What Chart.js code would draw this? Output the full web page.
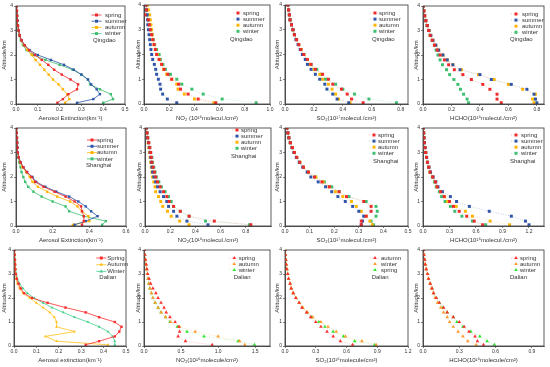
<!DOCTYPE html>
<html lang="en">
  <head>
    <meta charset="UTF-8" />
    <title>Vertical profiles</title>
    <script src="https://cdn.jsdelivr.net/npm/chart.js"></script>
    <style>
      body { margin: 0; background: #fff; width: 550px; height: 367px; overflow: hidden; position: relative; }
      .panel { position: absolute; }
    </style>
  </head>
  <body>
    <script>
      // altitude levels (km)
      const alt = [0.05, 0.2, 0.4, 0.6, 0.8, 1.0, 1.2, 1.4, 1.6, 1.8, 2.0, 2.2, 2.4, 2.6, 2.8, 3.0, 3.2, 3.4, 3.6, 3.8, 4.0];

      // tick labels
      const ticksAlt = [0, 1, 2, 3, 4];
      const ticks05 = [0, 0.1, 0.2, 0.3, 0.4, 0.5];
      const ticks06 = [0, 0.2, 0.4, 0.6];
      const ticks08 = [0, 0.2, 0.4, 0.6, 0.8];
      const ticks10 = [0, 0.2, 0.4, 0.6, 0.8, 1.0];
      const ticks09 = [0, 0.3, 0.6, 0.9];
      const ticks12 = [0, 0.3, 0.6, 0.9, 1.2];
      const ticks15 = [0, 0.5, 1.0, 1.5];

      // Qingdao
      const qdAerSpring = [0.19, 0.215, 0.24, 0.28, 0.285, 0.25, 0.21, 0.175, 0.148, 0.118, 0.087, 0.06, 0.04, 0.026, 0.017, 0.012, 0.009, 0.007, 0.005, 0.004, 0.003];
      const qdAerSummer = [0.28, 0.355, 0.385, 0.37, 0.345, 0.33, 0.3, 0.265, 0.22, 0.16, 0.1, 0.062, 0.04, 0.026, 0.017, 0.012, 0.009, 0.007, 0.005, 0.004, 0.003];
      const qdAerAutumn = [0.225, 0.245, 0.235, 0.215, 0.195, 0.17, 0.15, 0.13, 0.11, 0.09, 0.072, 0.052, 0.036, 0.024, 0.016, 0.011, 0.008, 0.006, 0.005, 0.004, 0.003];
      const qdAerWinter = [0.4, 0.445, 0.435, 0.385, 0.34, 0.33, 0.3, 0.26, 0.2, 0.135, 0.08, 0.048, 0.032, 0.022, 0.015, 0.011, 0.008, 0.006, 0.005, 0.004, 0.003];

      const qdNo2Spring = [0.57, 0.43, 0.35, 0.29, 0.275, 0.22, 0.19, 0.16, 0.14, 0.12, 0.1, 0.09, 0.08, 0.07, 0.06, 0.05, 0.042, 0.035, 0.008, 0.02, 0.015];
      const qdNo2Summer = [0.26, 0.185, 0.148, 0.132, 0.127, 0.114, 0.1, 0.093, 0.082, 0.069, 0.061, 0.055, 0.05, 0.045, 0.04, 0.035, 0.03, 0.028, 0.025, 0.02, 0.015];
      const qdNo2Autumn = [0.555, 0.4, 0.32, 0.27, 0.26, 0.22, 0.18, 0.155, 0.14, 0.12, 0.105, 0.09, 0.08, 0.07, 0.065, 0.06, 0.055, 0.05, 0.045, 0.035, 0.03];
      const qdNo2Winter = [0.89, 0.62, 0.47, 0.38, 0.3, 0.26, 0.21, 0.17, 0.15, 0.13, 0.12, 0.1, 0.085, 0.075, 0.065, 0.055, 0.045, 0.035, 0.025, 0.02, 0.015];

      const qdSo2Spring = [0.54, 0.46, 0.43, 0.39, 0.33, 0.3, 0.26, 0.21, 0.18, 0.155, 0.13, 0.11, 0.095, 0.08, 0.065, 0.055, 0.045, 0.035, 0.03, 0.025, 0.02];
      const qdSo2Summer = [0.44, 0.36, 0.33, 0.29, 0.275, 0.24, 0.21, 0.18, 0.155, 0.14, 0.12, 0.105, 0.09, 0.075, 0.065, 0.055, 0.045, 0.035, 0.03, 0.025, 0.02];
      const qdSo2Autumn = [0.45, 0.37, 0.35, 0.325, 0.3, 0.26, 0.24, 0.2, 0.17, 0.15, 0.13, 0.11, 0.095, 0.08, 0.065, 0.055, 0.045, 0.035, 0.03, 0.025, 0.02];
      const qdSo2Winter = [0.77, 0.58, 0.48, 0.4, 0.35, 0.28, 0.25, 0.22, 0.18, 0.15, 0.13, 0.11, 0.095, 0.08, 0.065, 0.055, 0.045, 0.035, 0.03, 0.025, 0.02];

      const qdHchoSpring = [0.55, 0.52, 0.52, 0.47, 0.42, 0.34, 0.28, 0.22, 0.18, 0.15, 0.12, 0.1, 0.08, 0.065, 0.05, 0.04, 0.03, 0.02, 0.012, 0.006, 0.002];
      const qdHchoSummer = [0.8, 0.79, 0.78, 0.73, 0.62, 0.48, 0.4, 0.26, 0.21, 0.17, 0.14, 0.11, 0.09, 0.07, 0.055, 0.042, 0.03, 0.02, 0.012, 0.006, 0.002];
      const qdHchoAutumn = [0.78, 0.77, 0.79, 0.7, 0.6, 0.5, 0.39, 0.27, 0.21, 0.17, 0.14, 0.11, 0.09, 0.07, 0.055, 0.042, 0.03, 0.02, 0.012, 0.006, 0.002];
      const qdHchoWinter = [0.32, 0.31, 0.285, 0.263, 0.245, 0.217, 0.187, 0.165, 0.137, 0.12, 0.105, 0.092, 0.08, 0.064, 0.05, 0.041, 0.027, 0.018, 0.009, 0.005, 0.0];

      // Shanghai
      const shAerSpring = [0.36, 0.37, 0.37, 0.36, 0.355, 0.32, 0.27, 0.21, 0.15, 0.105, 0.085, 0.06, 0.04, 0.025, 0.015, 0.01, 0.008, 0.006, 0.005, 0.004, 0.003];
      const shAerSummer = [0.32, 0.38, 0.445, 0.41, 0.38, 0.34, 0.29, 0.22, 0.16, 0.11, 0.09, 0.06, 0.04, 0.025, 0.015, 0.01, 0.008, 0.006, 0.005, 0.004, 0.003];
      const shAerAutumn = [0.31, 0.4, 0.395, 0.36, 0.335, 0.295, 0.225, 0.17, 0.12, 0.09, 0.075, 0.055, 0.035, 0.022, 0.015, 0.01, 0.008, 0.006, 0.005, 0.004, 0.003];
      const shAerWinter = [0.47, 0.49, 0.37, 0.29, 0.27, 0.2, 0.14, 0.095, 0.067, 0.05, 0.04, 0.03, 0.025, 0.018, 0.012, 0.009, 0.007, 0.006, 0.005, 0.004, 0.003];

      const shNo2Spring = [0.84, 0.55, 0.35, 0.28, 0.227, 0.192, 0.173, 0.147, 0.12, 0.1, 0.085, 0.075, 0.065, 0.055, 0.05, 0.045, 0.038, 0.03, 0.022, 0.016, 0.01];
      const shNo2Summer = [0.5, 0.333, 0.253, 0.227, 0.187, 0.173, 0.147, 0.12, 0.1, 0.085, 0.07, 0.06, 0.055, 0.05, 0.045, 0.04, 0.034, 0.027, 0.02, 0.015, 0.01];
      const shNo2Autumn = [0.35, 0.275, 0.208, 0.179, 0.141, 0.125, 0.107, 0.085, 0.08, 0.07, 0.06, 0.055, 0.05, 0.045, 0.04, 0.035, 0.03, 0.025, 0.02, 0.015, 0.01];
      const shNo2Winter = [0.83, 0.48, 0.35, 0.28, 0.227, 0.208, 0.187, 0.16, 0.13, 0.11, 0.09, 0.08, 0.07, 0.06, 0.055, 0.045, 0.038, 0.03, 0.022, 0.016, 0.01];

      const shSo2Spring = [0.31, 0.31, 0.33, 0.35, 0.35, 0.32, 0.25, 0.22, 0.18, 0.15, 0.12, 0.095, 0.075, 0.06, 0.048, 0.038, 0.03, 0.022, 0.016, 0.012, 0.008];
      const shSo2Summer = [0.31, 0.315, 0.32, 0.3, 0.275, 0.245, 0.215, 0.19, 0.165, 0.135, 0.105, 0.09, 0.072, 0.058, 0.046, 0.036, 0.028, 0.021, 0.015, 0.011, 0.007];
      const shSo2Autumn = [0.355, 0.345, 0.33, 0.31, 0.29, 0.27, 0.235, 0.205, 0.18, 0.155, 0.125, 0.095, 0.075, 0.06, 0.047, 0.037, 0.029, 0.021, 0.015, 0.011, 0.007];
      const shSo2Winter = [0.36, 0.35, 0.37, 0.375, 0.37, 0.33, 0.26, 0.22, 0.19, 0.16, 0.125, 0.095, 0.075, 0.06, 0.048, 0.038, 0.03, 0.022, 0.016, 0.012, 0.008];

      const shHchoSpring = [0.675, 0.58, 0.495, 0.41, 0.345, 0.3, 0.24, 0.2, 0.16, 0.14, 0.11, 0.08, 0.065, 0.05, 0.04, 0.03, 0.022, 0.015, 0.011, 0.008, 0.003];
      const shHchoSummer = [1.2, 1.16, 1.0, 0.75, 0.525, 0.38, 0.31, 0.22, 0.17, 0.145, 0.115, 0.085, 0.068, 0.052, 0.042, 0.032, 0.023, 0.016, 0.011, 0.008, 0.003];
      const shHchoAutumn = [0.98, 0.76, 0.56, 0.48, 0.375, 0.28, 0.245, 0.2, 0.16, 0.14, 0.11, 0.08, 0.065, 0.05, 0.04, 0.03, 0.022, 0.015, 0.011, 0.008, 0.003];
      const shHchoWinter = [0.71, 0.56, 0.44, 0.36, 0.31, 0.25, 0.21, 0.185, 0.15, 0.13, 0.105, 0.08, 0.063, 0.05, 0.04, 0.03, 0.022, 0.015, 0.011, 0.008, 0.003];

      // Dalian
      const dlAerSpring = [0.32, 0.38, 0.45, 0.47, 0.48, 0.45, 0.38, 0.32, 0.23, 0.15, 0.08, 0.045, 0.03, 0.02, 0.012, 0.008, 0.006, 0.005, 0.004, 0.003, 0.002];
      const dlAerAutumn = [0.42, 0.19, 0.14, 0.27, 0.19, 0.19, 0.18, 0.16, 0.13, 0.1, 0.07, 0.04, 0.025, 0.015, 0.01, 0.008, 0.006, 0.005, 0.004, 0.003, 0.002];
      const dlAerWinter = [0.45, 0.45, 0.44, 0.42, 0.38, 0.33, 0.27, 0.22, 0.17, 0.13, 0.09, 0.06, 0.04, 0.025, 0.015, 0.01, 0.008, 0.006, 0.005, 0.004, 0.003];

      const dlNo2Spring = [0.92, 0.56, 0.46, 0.48, 0.47, 0.42, 0.35, 0.3, 0.27, 0.23, 0.19, 0.16, 0.12, 0.09, 0.07, 0.05, 0.04, 0.03, 0.02, 0.012, 0.005];
      const dlNo2Autumn = [1.36, 1.29, 1.0, 0.69, 0.48, 0.36, 0.29, 0.23, 0.19, 0.15, 0.12, 0.1, 0.08, 0.065, 0.055, 0.045, 0.035, 0.025, 0.018, 0.01, 0.005];
      const dlNo2Winter = [1.49, 1.27, 0.81, 0.58, 0.45, 0.35, 0.29, 0.23, 0.19, 0.15, 0.12, 0.1, 0.08, 0.065, 0.055, 0.045, 0.035, 0.025, 0.018, 0.01, 0.005];

      const dlSo2Autumn = [0.66, 0.54, 0.47, 0.41, 0.35, 0.3, 0.25, 0.21, 0.165, 0.137, 0.105, 0.08, 0.06, 0.05, 0.035, 0.027, 0.018, 0.012, 0.008, 0.004, 0.002];
      const dlSo2Winter = [0.89, 0.75, 0.59, 0.5, 0.42, 0.35, 0.27, 0.22, 0.175, 0.14, 0.108, 0.082, 0.062, 0.05, 0.036, 0.027, 0.018, 0.012, 0.008, 0.004, 0.002];
      const dlSo2Spring = [0.875, 0.68, 0.57, 0.47, 0.39, 0.33, 0.26, 0.215, 0.17, 0.14, 0.107, 0.081, 0.061, 0.05, 0.035, 0.027, 0.018, 0.012, 0.008, 0.004, 0.002];

      const dlHchoSpring = [0.5, 0.45, 0.43, 0.38, 0.34, 0.3, 0.25, 0.2, 0.17, 0.135, 0.11, 0.088, 0.075, 0.06, 0.046, 0.038, 0.027, 0.019, 0.014, 0.008, 0.005];
      const dlHchoAutumn = [0.44, 0.37, 0.33, 0.29, 0.25, 0.22, 0.2, 0.17, 0.147, 0.12, 0.1, 0.085, 0.07, 0.058, 0.045, 0.036, 0.026, 0.018, 0.013, 0.008, 0.005];
      const dlHchoWinter = [0.59, 0.53, 0.47, 0.395, 0.33, 0.28, 0.25, 0.2, 0.165, 0.135, 0.11, 0.088, 0.075, 0.06, 0.046, 0.038, 0.027, 0.019, 0.014, 0.008, 0.005];

      const RED = "#ee2a2a", BLUE = "#2f55a8", YEL = "#ffb400", GRN = "#3dbf70";
      const RED3 = "#ff2e2e", ORA3 = "#ff9a2e", YEL3 = "#ffc21a", GRN3 = "#2ee62e", GRN3A = "#45cf8a";
      const FONT = "'Liberation Sans', Arial, sans-serif";
      const INK = "#333";

      const unitNo2 = "NO\u2082 (10\u00b9\u2076molecul./cm\u00b2)";
      const panels = [
        { l: 16, t: 6, r: 125, b: 104, yw: 16, xMax: 0.5, xTicks: ticks05, line: true, xTitle: "Aerosol Extinction(km\u207b\u00b9)", city: "Qingdao",
          lg: { mx: 28.5, tx: 20, y0: 9, gap: 6.2, cx: 32, cy: 34 },
          series: [["spring", qdAerSpring, RED, "rect"], ["summer", qdAerSummer, BLUE, "rect"], ["autumn", qdAerAutumn, YEL, "rect"], ["winter", qdAerWinter, GRN, "rect"]] },
        { l: 144, t: 5, r: 270, b: 104, yw: 10, xMax: 1.0, xTicks: ticks10, xTitle: unitNo2, city: "Qingdao",
          lg: { mx: 32, tx: 27, y0: 8, gap: 6.1, cx: 40, cy: 34 },
          series: [["spring", qdNo2Spring, RED, "rect"], ["summer", qdNo2Summer, BLUE, "rect"], ["autumn", qdNo2Autumn, YEL, "rect"], ["winter", qdNo2Winter, GRN, "rect"]] },
        { l: 285, t: 5, r: 408, b: 104, yw: 12, xMax: 0.85, xTicks: ticks08, xTitle: "SO\u2082(10\u00b9\u2077molecul./cm\u00b2)", city: "Qingdao",
          lg: { mx: 33, tx: 29, y0: 8, gap: 6.1, cx: 36, cy: 34 },
          series: [["spring", qdSo2Spring, RED, "rect"], ["summer", qdSo2Summer, BLUE, "rect"], ["autumn", qdSo2Autumn, YEL, "rect"], ["winter", qdSo2Winter, GRN, "rect"]] },
        { l: 423, t: 6, r: 544, b: 104, yw: 11, xMax: 0.85, xTicks: ticks08, xTitle: "HCHO(10\u00b9\u2076molecul./cm\u00b2)", city: "Qingdao",
          lg: { mx: 28, tx: 22, y0: 8, gap: 6.1, cx: 34, cy: 33 },
          series: [["spring", qdHchoSpring, RED, "rect"], ["summer", qdHchoSummer, BLUE, "rect"], ["autumn", qdHchoAutumn, YEL, "rect"], ["winter", qdHchoWinter, GRN, "rect"]] },

        { l: 16, t: 128, r: 126, b: 226, yw: 16, xMax: 0.6, xTicks: ticks06, line: true, xTitle: "Aerosol Extinction(km\u207b\u00b9)", city: "Shanghai",
          lg: { mx: 34, tx: 29, y0: 12, gap: 6.3, cx: 40, cy: 37 },
          series: [["spring", shAerSpring, RED, "rect"], ["summer", shAerSummer, BLUE, "rect"], ["autumn", shAerAutumn, YEL, "rect"], ["winter", shAerWinter, GRN, "rect"]] },
        { l: 145, t: 128, r: 271, b: 226, yw: 10, xMax: 1.0, xTicks: ticks08, xTitle: "NO\u2082(10\u00b9\u2076molecul./cm\u00b2)", city: "Shanghai",
          lg: { mx: 34, tx: 30, y0: 2, gap: 6.1, cx: 40, cy: 28 },
          series: [["spring", shNo2Spring, RED, "rect"], ["summer", shNo2Summer, BLUE, "rect"], ["autumn", shNo2Autumn, YEL, "rect"], ["winter", shNo2Winter, GRN, "rect"]] },
        { l: 285, t: 128, r: 408, b: 226, yw: 12, xMax: 0.5, xTicks: ticks05, xTitle: "SO\u2082(10\u00b9\u2077molecul./cm\u00b2)", city: "Shanghai",
          lg: { mx: 34, tx: 30, y0: 7, gap: 6.1, cx: 35, cy: 33 },
          series: [["spring", shSo2Spring, RED, "rect"], ["summer", shSo2Summer, BLUE, "rect"], ["autumn", shSo2Autumn, YEL, "rect"], ["winter", shSo2Winter, GRN, "rect"]] },
        { l: 423, t: 128, r: 544, b: 226, yw: 11, xMax: 1.37, xTicks: ticks12, xTitle: "HCHO(10\u00b9\u2076molecul./cm\u00b2)", city: "Shanghai",
          lg: { mx: 28, tx: 23, y0: 7, gap: 6.1, cx: 34, cy: 33 },
          series: [["spring", shHchoSpring, RED, "rect"], ["summer", shHchoSummer, BLUE, "rect"], ["autumn", shHchoAutumn, YEL, "rect"], ["winter", shHchoWinter, GRN, "rect"]] },

        { l: 14, t: 250, r: 126, b: 346, yw: 14, xMax: 0.5, xTicks: ticks05, line: true, xTitle: "Aerosol extinction(km\u207b\u00b9)", city: "Dalian",
          lg: { mx: 24.7, tx: 18.7, y0: 8, gap: 6.7, cx: 26.7, cy: 27.3 },
          series: [["Spring", dlAerSpring, RED3, "rect"], ["Autumn", dlAerAutumn, YEL3, "triangle"], ["Winter", dlAerWinter, GRN3A, "triangle"]] },
        { l: 144, t: 250, r: 270, b: 346, yw: 10, xMax: 1.7, xTicks: ticks15, xTitle: "NO\u2082(10\u00b9\u2076molecule/cm\u00b2)", city: "Dalian",
          lg: { mx: 35.7, tx: 31.3, y0: 8, gap: 6, cx: 36.3, cy: 27.3 },
          series: [["spring", dlNo2Spring, RED3, "triangle"], ["autumn", dlNo2Autumn, ORA3, "triangle"], ["winter", dlNo2Winter, GRN3, "triangle"]] },
        { l: 285, t: 250, r: 408, b: 346, yw: 12, xMax: 1.2, xTicks: ticks12, xTitle: "SO\u2082(10\u00b9\u2076molecule/cm\u00b2)", city: "Dalian",
          lg: { mx: 33, tx: 27, y0: 8, gap: 6, cx: 36.3, cy: 27.3 },
          series: [["autumn", dlSo2Autumn, RED3, "triangle"], ["winter", dlSo2Winter, ORA3, "triangle"], ["spring", dlSo2Spring, GRN3, "triangle"]] },
        { l: 423, t: 250, r: 544, b: 346, yw: 11, xMax: 1.0, xTicks: ticks09, xTitle: "HCHO(10\u00b9\u2076molecule/cm\u00b2)", city: "Dalian",
          lg: { mx: 28, tx: 24, y0: 8, gap: 6, cx: 34, cy: 27.3 },
          series: [["spring", dlHchoSpring, RED3, "triangle"], ["autumn", dlHchoAutumn, ORA3, "triangle"], ["winter", dlHchoWinter, GRN3, "triangle"]] },
      ];

      function fade(hex, a) {
        const n = parseInt(hex.slice(1), 16);
        return `rgba(${n >> 16},${(n >> 8) & 255},${n & 255},${a})`;
      }

      // frame around the plot + legend drawn inside the plot area
      const boxAndLegend = {
        id: "boxAndLegend",
        afterDatasetsDraw(chart) {
          const p = chart.options.panel;
          const { ctx, chartArea: a } = chart;
          ctx.save();
          ctx.strokeStyle = INK;
          ctx.lineWidth = 0.8;
          ctx.strokeRect(a.left, a.top, a.right - a.left, a.bottom - a.top);
          const lg = p.lg;
          ctx.font = "6px " + FONT;
          ctx.textBaseline = "middle";
          p.series.forEach((s, i) => {
            const y = a.top + lg.y0 + i * lg.gap;
            const mx = a.right - lg.mx;
            ctx.beginPath();
            ctx.strokeStyle = p.line ? s[2] : fade(s[2], 0.6);
            ctx.lineWidth = p.line ? 0.8 : 0.5;
            ctx.setLineDash(p.line ? [] : [1, 1.5]);
            ctx.moveTo(mx - 5, y);
            ctx.lineTo(mx + 5, y);
            ctx.stroke();
            ctx.setLineDash([]);
            ctx.fillStyle = s[2];
            Chart.helpers.drawPoint(ctx, { pointStyle: s[3], radius: 2.1, borderWidth: 0, rotation: 0 }, mx, y);
            ctx.fillStyle = INK;
            ctx.fillText(s[0], a.right - lg.tx, y);
          });
          ctx.fillText(p.city, a.right - lg.cx, a.top + lg.cy);
          ctx.restore();
        },
      };

      const PT = 6, PR = 5, XH = 18;
      panels.forEach((p) => {
        const div = document.createElement("div");
        div.className = "panel";
        const W = p.r - p.l + p.yw + PR;
        const H = p.b - p.t + PT + XH;
        div.style.left = p.l - p.yw + "px";
        div.style.top = p.t - PT + "px";
        div.style.width = W + "px";
        div.style.height = H + "px";
        const cv = document.createElement("canvas");
        div.appendChild(cv);
        document.body.appendChild(div);

        const tickFont = { family: FONT, size: 5 };
        const titleFont = { family: FONT, size: 6 };
        new Chart(cv, {
          type: "scatter",
          data: {
            datasets: p.series.map((s) => ({
              label: s[0],
              data: alt.map((a, i) => ({ x: s[1][i], y: a })),
              showLine: true,
              borderColor: p.line ? s[2] : fade(s[2], 0.55),
              borderWidth: p.line ? 0.8 : 0.5,
              borderDash: p.line ? [] : [1, 1.5],
              pointBackgroundColor: s[2],
              pointBorderWidth: 0,
              pointStyle: s[3],
              pointRadius: p.line ? 1.7 : 2.1,
            })),
          },
          options: {
            panel: p,
            responsive: true,
            maintainAspectRatio: false,
            animation: false,
            layout: { padding: { left: 0, right: PR, top: PT, bottom: 0 } },
            plugins: { legend: { display: false }, tooltip: { enabled: false } },
            scales: {
              x: {
                type: "linear",
                min: 0,
                max: p.xMax,
                afterFit: (ax) => { ax.height = XH; },
                afterBuildTicks: (ax) => { ax.ticks = p.xTicks.map((v) => ({ value: v })); },
                ticks: { font: tickFont, color: INK, padding: 1, maxRotation: 0, callback: (v) => Number(v).toFixed(1) },
                grid: { drawOnChartArea: false, tickLength: 2, color: INK, lineWidth: 0.6 },
                border: { color: INK, width: 0.8 },
                title: { display: true, text: p.xTitle, font: titleFont, color: INK, padding: 0 },
              },
              y: {
                type: "linear",
                min: 0,
                max: 4,
                afterFit: (ax) => { ax.width = p.yw; },
                afterBuildTicks: (ax) => { ax.ticks = ticksAlt.map((v) => ({ value: v })); },
                ticks: { font: tickFont, color: INK, padding: 1, callback: (v) => v },
                grid: { drawOnChartArea: false, tickLength: 2, color: INK, lineWidth: 0.6 },
                border: { color: INK, width: 0.8 },
                title: { display: true, text: "Altitude/km", font: titleFont, color: INK, padding: { top: 1, bottom: 0 } },
              },
            },
          },
          plugins: [boxAndLegend],
        });
      });
    </script>
  </body>
</html>
